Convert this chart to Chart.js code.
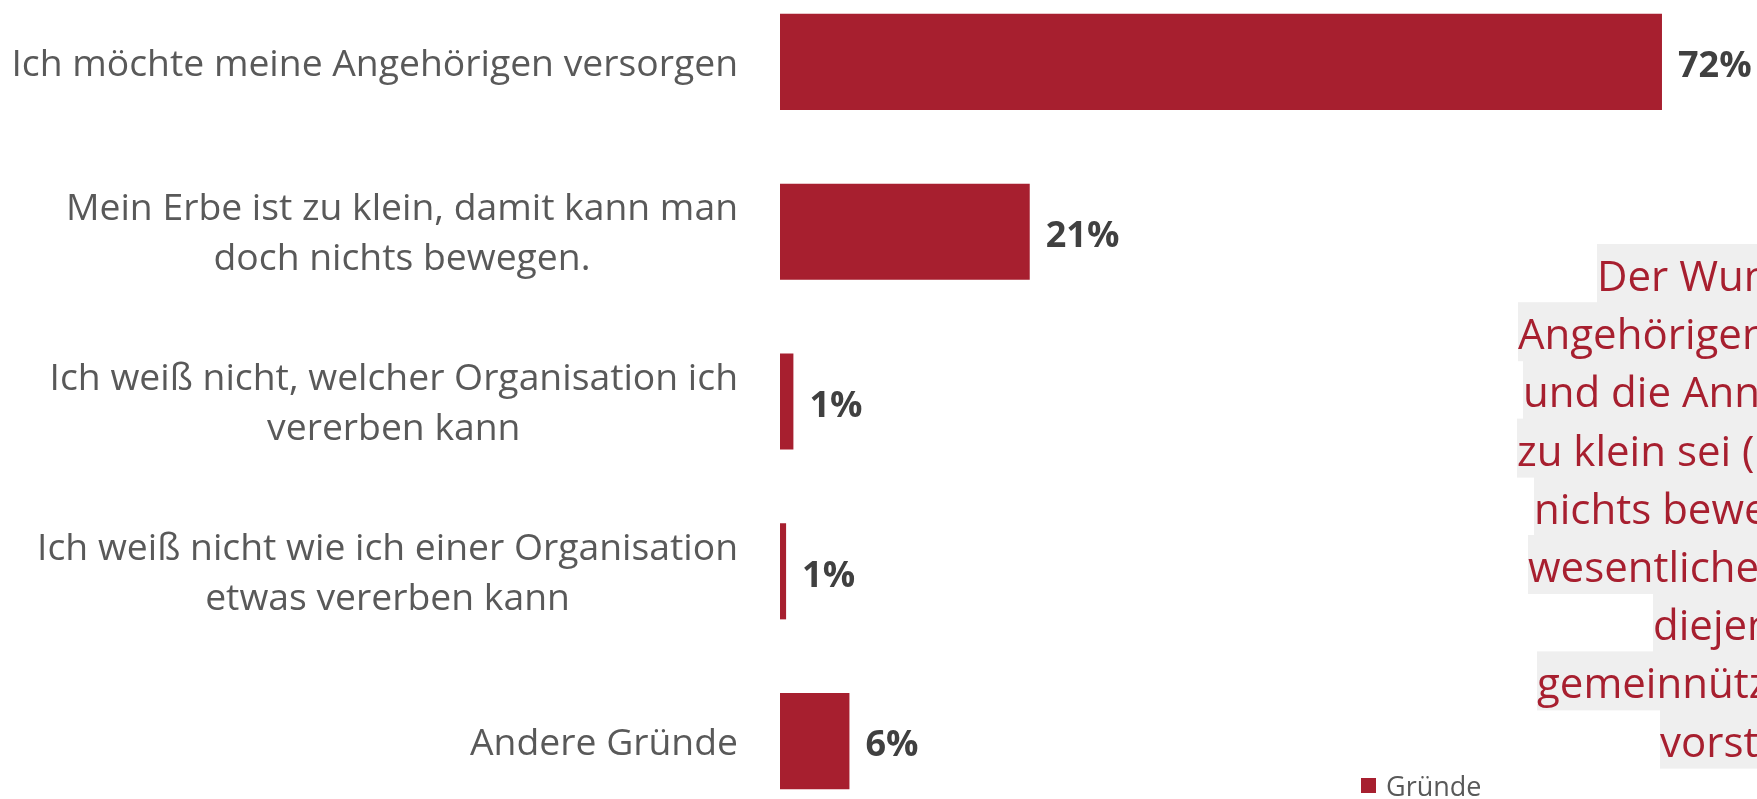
<!DOCTYPE html>
<html lang="de">
<head>
<meta charset="utf-8">
<title>Gründe</title>
<script src="https://cdn.jsdelivr.net/npm/chart.js@4.4.1/dist/chart.umd.min.js"></script>
<style>
  html, body { margin: 0; padding: 0; background: #fff; overflow: hidden; width: 1757px; height: 799px; }
  #wrap { position: absolute; left: 0; top: -23px; width: 1757px; height: 849px; }
</style>
</head>
<body>
<div id="wrap"><canvas id="chart"></canvas></div>
<script>
// Kategorien (mehrzeilig) und Werte in %
const categories = [
  ['Ich möchte meine Angehörigen versorgen'],
  ['Mein Erbe ist zu klein, damit kann man', 'doch nichts bewegen.'],
  ['Ich weiß nicht, welcher Organisation ich', 'vererben kann'],
  ['Ich weiß nicht wie ich einer Organisation', 'etwas vererben kann'],
  ['Andere Gründe']
];
const values = [72.4, 20.5, 1.1, 0.5, 5.7];
const seriesName = 'Gründe';

// Textkasten rechts (wird am Bildrand abgeschnitten)
const noteLines = [
  'Der Wunsch, die',
  'Angehörigen zu versorgen',
  'und die Annahme, das Erbe',
  'zu klein sei (man kann damit',
  'nichts bewegen), sind die',
  'wesentlichen Gründe für',
  'diejenigen, die sich keine',
  'gemeinnützige Erbschaft',
  'vorstellen können.'
];
const noteLeft = [1597, 1518, 1523, 1517, 1534, 1528, 1653, 1537, 1660];

const RED = '#A71F2F';
const OFFSET = 23; // canvas beginnt 23px oberhalb der Seite

// Beschriftung der Kategorien: Block rechtsbündig, Zeilen zentriert
const categoryLabels = {
  id: 'categoryLabels',
  afterDraw(chart) {
    const ctx = chart.ctx;
    const y = chart.scales.y;
    ctx.save();
    ctx.font = '37.3px "Open Sans"';
    ctx.fillStyle = '#595959';
    ctx.textAlign = 'center';
    ctx.textBaseline = 'middle';
    categories.forEach((lines, i) => {
      const cy = y.getPixelForValue(i) + 3;
      const w = Math.max(...lines.map(l => ctx.measureText(l).width));
      const cx = y.right - 42 - w / 2;
      lines.forEach((l, j) => {
        ctx.fillText(l, cx, cy + (j - (lines.length - 1) / 2) * 50);
      });
    });
    ctx.restore();
  }
};

// Werte hinter den Balken
const valueLabels = {
  id: 'valueLabels',
  afterDatasetsDraw(chart) {
    const ctx = chart.ctx;
    const meta = chart.getDatasetMeta(0);
    ctx.save();
    ctx.font = 'bold 36px "Open Sans"';
    ctx.fillStyle = '#404040';
    ctx.textAlign = 'left';
    ctx.textBaseline = 'middle';
    meta.data.forEach((bar, i) => {
      ctx.fillText(Math.round(values[i]) + '%', bar.x + 16, bar.y + 5);
    });
    ctx.restore();
  }
};

// Hinweistext mit grauer Hinterlegung + Legende
const noteAndLegend = {
  id: 'noteAndLegend',
  afterDraw(chart) {
    const ctx = chart.ctx;
    ctx.save();
    ctx.font = '42px "Open Sans"';
    ctx.textAlign = 'left';
    ctx.textBaseline = 'alphabetic';
    noteLines.forEach((t, i) => {
      const base = 291 + i * 58.2 + OFFSET;
      ctx.fillStyle = '#EFEFEF';
      ctx.fillRect(noteLeft[i], base - 47, chart.width - noteLeft[i] + 5, 59);
      ctx.fillStyle = RED;
      ctx.fillText(t, noteLeft[i], base);
    });

    const ds = chart.data.datasets[0];
    ctx.fillStyle = ds.backgroundColor;
    ctx.fillRect(1361, 778 + OFFSET, 15, 15);
    ctx.font = '27px "Open Sans"';
    ctx.fillStyle = '#595959';
    ctx.fillText(ds.label, 1386, 796 + OFFSET);
    ctx.restore();
  }
};

new Chart(document.getElementById('chart'), {
  type: 'bar',
  data: {
    labels: categories,
    datasets: [{
      label: seriesName,
      data: values,
      backgroundColor: RED,
      barPercentage: 0.566,
      categoryPercentage: 1
    }]
  },
  options: {
    indexAxis: 'y',
    responsive: true,
    maintainAspectRatio: false,
    animation: false,
    layout: { padding: 0 },
    plugins: {
      legend: { display: false },
      tooltip: { enabled: false }
    },
    scales: {
      x: { display: false, min: 0, max: 80.2 },
      y: {
        ticks: { display: false },
        grid: { display: false, drawTicks: false },
        border: { display: false },
        afterFit(scale) { scale.width = 780; }
      }
    }
  },
  plugins: [categoryLabels, valueLabels, noteAndLegend]
});
</script>
</body>
</html>
